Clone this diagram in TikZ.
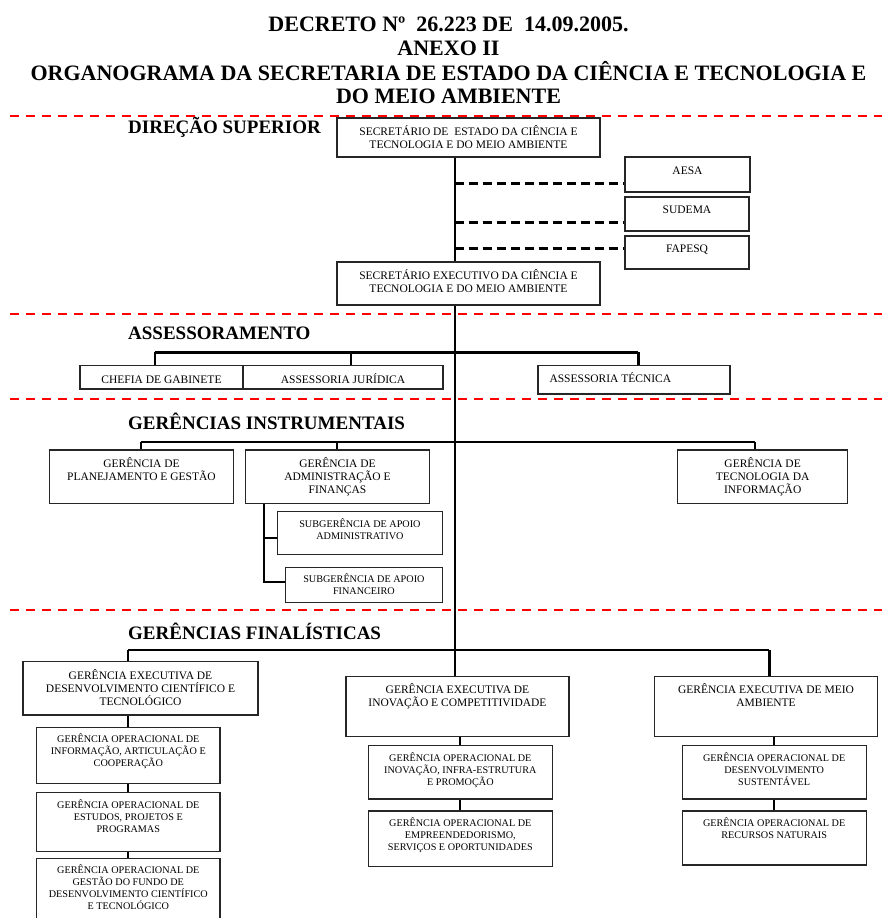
\documentclass[tikz,border=0pt]{standalone}
\usepackage{fontspec}
\setmainfont{Liberation Serif}
\usetikzlibrary{calc}
\newcommand\mbx[4]{\parbox[c][#2pt][t]{#1pt}{\fontsize{11.5}{13.3}\selectfont\centering\vspace*{\dimexpr#3pt-12pt\relax}\rule{0pt}{12pt}#4\par}}
\newcommand\lbx[4]{\parbox[c][#2pt][t]{#1pt}{\fontsize{11.5}{13.3}\selectfont\raggedright\vspace*{\dimexpr#3pt-12pt\relax}\hspace*{11.5pt}\rule{0pt}{12pt}#4\par}}
\newcommand\sbx[4]{\parbox[c][#2pt][t]{#1pt}{\fontsize{10.2}{12}\selectfont\centering\vspace*{\dimexpr#3pt-11pt\relax}\rule{0pt}{11pt}#4\par}}
\tikzset{
  box/.style={draw=black!85, line width=1.2pt, inner sep=0pt, rectangle},
  ttl/.style={font=\fontsize{22}{24}\selectfont\bfseries, inner sep=0pt, anchor=base},
  seclbl/.style={font=\fontsize{19}{21}\selectfont\bfseries, inner sep=0pt, anchor=base west},
  trunk/.style={line width=2pt},
  bar/.style={line width=2.5pt},
  drop/.style={line width=2pt},
  linkdash/.style={line width=3pt, dash pattern=on 9pt off 5pt},
  reddash/.style={draw=red, line width=2pt, dash pattern=on 9pt off 7pt}
}
\begin{document}
\begin{tikzpicture}[x=1pt,y=-1pt]
\useasboundingbox (0,0) rectangle (882,918);
% titles
\node[ttl] (t1) at (448.5,31) {DECRETO Nº\ \ 26.223 DE\ \ 14.09.2005.};
\node[ttl] (t2) at (448.5,55) {ANEXO II};
\node[ttl] (t3) at (448.5,80) {ORGANOGRAMA DA SECRETARIA DE ESTADO DA CIÊNCIA E TECNOLOGIA E};
\node[ttl] (t4) at (448.5,103) {DO MEIO AMBIENTE};
% section labels
\node[seclbl] (l1) at (128,133) {DIREÇÃO SUPERIOR};
\node[seclbl] (l2) at (128,339.3) {ASSESSORAMENTO};
\node[seclbl] (l3) at (128,429) {GERÊNCIAS INSTRUMENTAIS};
\node[seclbl] (l4) at (128,639.3) {GERÊNCIAS FINALÍSTICAS};
% boxes
\node[box] (sec) at (468.5,137.5) {\mbx{263}{39}{17.3}{SECRETÁRIO DE\ \ ESTADO DA CIÊNCIA E\\TECNOLOGIA E DO MEIO AMBIENTE}};
\node[box] (aesa) at (687.5,174.5) {\mbx{125}{35}{17.8}{AESA}};
\node[box] (sudema) at (687,214) {\mbx{124}{34}{16.3}{SUDEMA}};
\node[box] (fapesq) at (687,252.5) {\mbx{124}{33}{16.5}{FAPESQ}};
\node[box] (secex) at (468.5,283.5) {\mbx{263}{43}{17.1}{SECRETÁRIO EXECUTIVO DA CIÊNCIA E\\TECNOLOGIA E DO MEIO AMBIENTE}};
\node[box] (chefia) at (161.5,377.35) {\mbx{163}{23.3}{17.4}{CHEFIA DE GABINETE}};
\node[box] (jur) at (343,377.35) {\mbx{200}{23.3}{17.4}{ASSESSORIA JURÍDICA}};
\node[box] (tec) at (634,379.85) {\lbx{192}{28.3}{16.4}{ASSESSORIA TÉCNICA}};
\node[box] (plan) at (141.45,476.65) {\mbx{183.9}{53.3}{17.3}{GERÊNCIA DE\\PLANEJAMENTO E GESTÃO}};
\node[box] (adm) at (337.45,476.65) {\mbx{183.3}{53.3}{17.3}{GERÊNCIA DE\\ADMINISTRAÇÃO E\\FINANÇAS}};
\node[box] (ti) at (762.65,476.65) {\mbx{169.9}{53.3}{17.3}{GERÊNCIA DE\\TECNOLOGIA DA\\INFORMAÇÃO}};
\node[box] (sadm) at (359.95,533) {\sbx{165.3}{42.6}{15.5}{SUBGERÊNCIA DE APOIO\\ADMINISTRATIVO}};
\node[box] (sfin) at (363.9,585) {\sbx{157.4}{35.4}{15.3}{SUBGERÊNCIA DE APOIO\\FINANCEIRO}};
\node[box] (gedct) at (140.5,688.35) {\mbx{235}{53.3}{17.6}{GERÊNCIA EXECUTIVA DE\\DESENVOLVIMENTO CIENTÍFICO E\\TECNOLÓGICO}};
\node[box] (geinov) at (457.5,706.7) {\mbx{223}{60}{16.6}{GERÊNCIA EXECUTIVA DE\\INOVAÇÃO E COMPETITIVIDADE}};
\node[box] (gema) at (766.05,706.7) {\mbx{222.7}{60}{16.6}{GERÊNCIA EXECUTIVA DE MEIO\\AMBIENTE}};
\node[box] (go1) at (128.3,755.5) {\sbx{183.4}{55.6}{14.9}{GERÊNCIA OPERACIONAL DE\\INFORMAÇÃO, ARTICULAÇÃO E\\COOPERAÇÃO}};
\node[box] (go2) at (128.3,822.2) {\sbx{183.4}{59}{15.9}{GERÊNCIA OPERACIONAL DE\\ESTUDOS, PROJETOS E\\PROGRAMAS}};
\node[box] (go3) at (128.3,890.15) {\sbx{183.4}{63.7}{15.4}{GERÊNCIA OPERACIONAL DE\\GESTÃO DO FUNDO DE\\DESENVOLVIMENTO CIENTÍFICO\\E TECNOLÓGICO}};
\node[box] (goinov) at (460.35,772.35) {\sbx{183.9}{53.3}{15.5}{GERÊNCIA OPERACIONAL DE\\INOVAÇÃO, INFRA-ESTRUTURA\\E PROMOÇÃO}};
\node[box] (goemp) at (460.35,838.85) {\sbx{183.9}{55.7}{15.2}{GERÊNCIA OPERACIONAL DE\\EMPREENDEDORISMO,\\SERVIÇOS E OPORTUNIDADES}};
\node[box] (gods) at (774.15,772.35) {\sbx{183.9}{53.3}{15.5}{GERÊNCIA OPERACIONAL DE\\DESENVOLVIMENTO\\SUSTENTÁVEL}};
\node[box] (gorn) at (774.15,838) {\sbx{183.9}{54}{15.2}{GERÊNCIA OPERACIONAL DE\\RECURSOS NATURAIS}};
% trunk
\coordinate (mx) at (454.5,0);
\draw[trunk] (sec.south -| mx) -- (secex.north -| mx);
\draw[trunk] (secex.south -| mx) -- (geinov.north -| mx);
% dashed links
\coordinate (d1) at (454.5,183.3);
\coordinate (d2) at (454.5,222.7);
\coordinate (d3) at (454.5,248.3);
\draw[linkdash] (d1) -- (d1 -| aesa.west);
\draw[linkdash] (d2) -- (d2 -| sudema.west);
\draw[linkdash] (d3) -- (d3 -| fapesq.west);
% assessoramento
\coordinate (a1) at (154.7,352.3);
\coordinate (a2) at (351,352.3);
\coordinate (a3) at (638.4,352.3);
\draw[bar] (a1) -- (a3);
\draw[drop] (a1) -- (a1 |- chefia.north);
\draw[drop] (a2) -- (a2 |- jur.north);
\draw[drop, line width=3pt] (a3) -- (a3 |- tec.north);
% instrumentais
\coordinate (i1) at (140.6,442.3);
\coordinate (i3) at (755.4,442.3);
\draw[drop] (i1) -- (i3);
\draw[drop] (i1) -- (i1 |- plan.north);
\draw[drop] (adm.north |- i1) -- (adm.north);
\draw[drop] (i3) -- (i3 |- ti.north);
\coordinate (s1) at (263.8,538.3);
\coordinate (s2) at (263.8,581.7);
\draw[drop] (s1 |- adm.south) -- (s2) -- (s2 -| sfin.west);
\draw[drop] (s1) -- (s1 -| sadm.west);
% finalisticas
\coordinate (f1) at (128.2,650);
\coordinate (f3) at (769.4,650);
\draw[bar] (f1) -- (f3);
\draw[drop] (f1) -- (f1 |- gedct.north);
\draw[drop, line width=3pt] (f3) -- (f3 |- gema.north);
\draw[drop] (go1.north |- gedct.south) -- (go1.north);
\draw[drop] (go1.south) -- (go2.north);
\draw[drop] (go2.south) -- (go3.north);
\draw[drop] (goinov.north |- geinov.south) -- (goinov.north);
\draw[drop] (goinov.south) -- (goemp.north);
\draw[drop] (gods.north |- gema.south) -- (gods.north);
\draw[drop] (gods.south) -- (gorn.north);
% red separators
\coordinate (r1a) at (10,116);   \coordinate (r1b) at (882,116);
\coordinate (r2a) at (10,314.3); \coordinate (r2b) at (882,314.3);
\coordinate (r3a) at (10,399.3); \coordinate (r3b) at (882,399.3);
\coordinate (r4a) at (10,610);   \coordinate (r4b) at (882,610);
\draw[reddash] (r1a) -- (r1b);
\draw[reddash] (r2a) -- (r2b);
\draw[reddash] (r3a) -- (r3b);
\draw[reddash] (r4a) -- (r4b);
\end{tikzpicture}
\end{document}
